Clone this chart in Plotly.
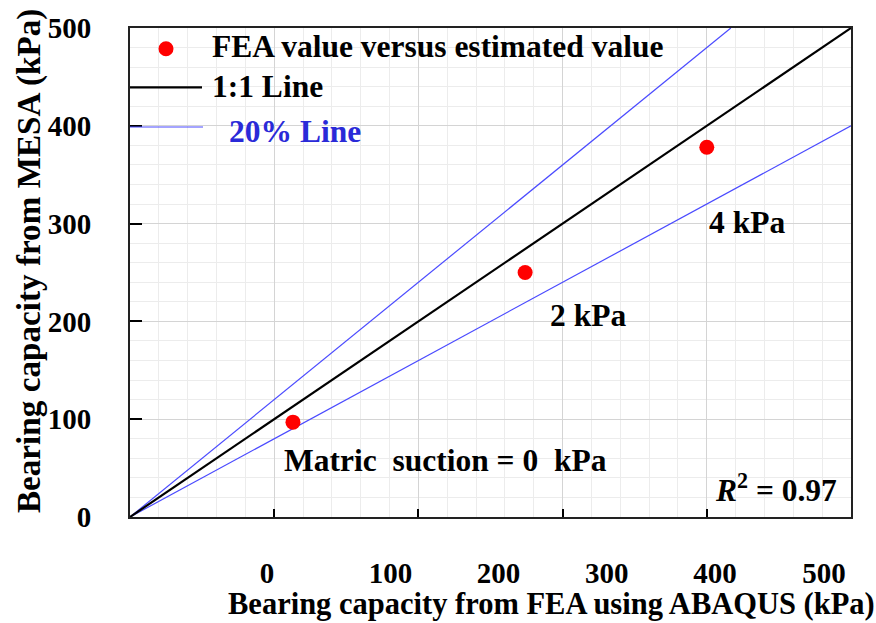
import plotly.graph_objects as go

# FEA (ABAQUS) vs MESA bearing capacity, kPa
fea_kpa = [113, 274, 400]
mesa_kpa = [97, 250, 378]

# reference lines: 1:1 and +/-20 %
line_x = [0, 500]
one_to_one = [0, 500]
upper_x = [0, 500 / 1.2]
upper_y = [0, 500]
lower_y = [0, 400]

y_ticks = [0, 100, 200, 300, 400, 500]
x_tick_marks = [100, 200, 300, 400]
x_label_pos = [95, 180.6, 255.6, 330.6, 405.6, 481.3]
x_label_text = ["0", "100", "200", "300", "400", "500"]

FONT = "Liberation Serif"
BLUE_LINE = "#4a4aff"
BLUE_TEXT = "#2a2ad8"

fig = go.Figure()
fig.add_trace(go.Scatter(x=upper_x, y=upper_y, mode="lines",
                         line=dict(color=BLUE_LINE, width=1.2), showlegend=False))
fig.add_trace(go.Scatter(x=line_x, y=lower_y, mode="lines",
                         line=dict(color=BLUE_LINE, width=1.2), showlegend=False))
fig.add_trace(go.Scatter(x=line_x, y=one_to_one, mode="lines",
                         line=dict(color="black", width=2.2), showlegend=False))
fig.add_trace(go.Scatter(x=fea_kpa, y=mesa_kpa, mode="markers",
                         marker=dict(color="#ff0000", size=15), showlegend=False))
# carrier trace for the offset tick labels
fig.add_trace(go.Scatter(x=[0, 500], y=[0, 0], xaxis="x2", mode="markers",
                         marker=dict(opacity=0), hoverinfo="skip", showlegend=False))

grid_major = "#d4d4d4"
grid_minor = "#ececec"


def serif(size, color="black", bold=True):
    return dict(family=FONT, size=size, color=color,
                weight="bold" if bold else "normal")


fig.update_layout(
    width=876, height=623,
    margin=dict(l=130, r=25, t=23, b=106),
    plot_bgcolor="white", paper_bgcolor="white",
    font=dict(family=FONT, color="black", size=26),
    xaxis=dict(range=[0, 500], tickvals=x_tick_marks, showticklabels=False,
               ticks="inside", ticklen=8, tickwidth=1.5, tickcolor="black",
               showgrid=True, gridcolor=grid_major, gridwidth=1,
               minor=dict(dtick=20, showgrid=True, gridcolor=grid_minor, gridwidth=1),
               showline=True, linecolor="#222", linewidth=2, mirror=True,
               zeroline=False),
    xaxis2=dict(range=[0, 500], overlaying="x", side="bottom", anchor="y",
                tickvals=x_label_pos, ticktext=x_label_text, ticks="",
                showgrid=False, showline=False, zeroline=False,
                ticklabelstandoff=36, tickfont=serif(29)),
    yaxis=dict(range=[0, 500], tickvals=y_ticks,
               ticks="inside", ticklen=12, tickwidth=1.5, tickcolor="black",
               showgrid=True, gridcolor=grid_major, gridwidth=1,
               minor=dict(dtick=20, showgrid=True, gridcolor=grid_minor, gridwidth=1),
               showline=True, linecolor="#222", linewidth=2, mirror=True,
               zeroline=False, ticklabelstandoff=31, tickfont=serif(29)),
)

# axis titles
fig.add_annotation(text="Bearing capacity from FEA using ABAQUS (kPa)",
                   xref="paper", yref="paper", x=0.585, y=-0.178,
                   xanchor="center", yanchor="middle", showarrow=False,
                   font=serif(30.5))
fig.add_annotation(text="Bearing capacity from MESA (kPa)",
                   xref="paper", yref="paper", x=-0.141, y=0.524, textangle=-90,
                   xanchor="center", yanchor="middle", showarrow=False,
                   font=serif(33.2))

# in-plot labels
labels = [
    ("Matric&nbsp; suction = 0&nbsp; kPa", 105.6, 58),
    ("2 kPa", 289.6, 206),
    ("4 kPa", 400, 301),
    ("<i>R</i><sup>2</sup> = 0.97", 404, 30),
]
for txt, lx, ly in labels:
    fig.add_annotation(text=txt, x=lx, y=ly, xanchor="left", yanchor="middle",
                       showarrow=False, font=serif(31.5))

# key, top-left inside the axes
def px_x(p):
    return (p - 130) / 721

def px_y(p):
    return (517 - p) / 494

fig.add_shape(type="circle", xref="paper", yref="paper",
              xsizemode="pixel", ysizemode="pixel",
              xanchor=px_x(166), yanchor=px_y(44),
              x0=-7.5, x1=7.5, y0=-7.5, y1=7.5,
              fillcolor="#ff0000", line=dict(width=0))
fig.add_shape(type="line", xref="paper", yref="paper",
              x0=0, x1=px_x(202), y0=px_y(83), y1=px_y(83),
              line=dict(color="black", width=2.2))
fig.add_shape(type="line", xref="paper", yref="paper",
              x0=0, x1=px_x(203), y0=px_y(123), y1=px_y(123),
              line=dict(color=BLUE_LINE, width=1.2))
key_items = [
    ("FEA value versus estimated value", 210, 42, "black"),
    ("1:1 Line", 210, 82, "black"),
    ("20% Line", 227, 128, BLUE_TEXT),
]
for txt, kx, ky, col in key_items:
    fig.add_annotation(text=txt, xref="paper", yref="paper",
                       x=px_x(kx), y=px_y(ky), xanchor="left", yanchor="middle",
                       showarrow=False, font=serif(31.5, col))

fig.write_html("out.html")
